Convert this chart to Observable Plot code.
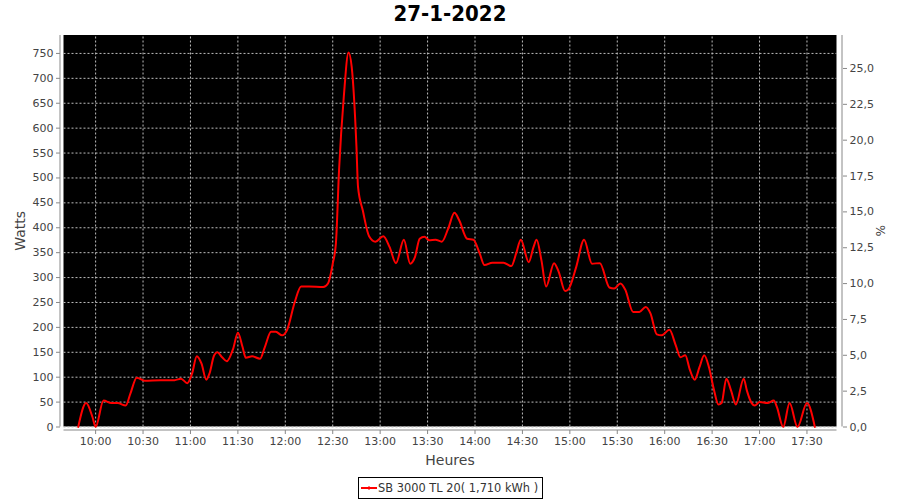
<!DOCTYPE html>
<html>
<head>
<meta charset="utf-8">
<script src="https://cdn.jsdelivr.net/npm/d3@7"></script>
<script src="https://cdn.jsdelivr.net/npm/@observablehq/plot@0.6"></script>
<style>
  body { margin: 0; background: #fff; }
  #wrap { position: relative; width: 900px; height: 500px; overflow: hidden; background: #fff; }
  #wrap > svg { position: absolute; left: 0; top: 0; }
  #title { position: absolute; left: 0; top: 0; width: 900px; text-align: center;
           font-family: "DejaVu Sans Condensed", "DejaVu Sans", sans-serif; font-stretch: condensed;
           font-weight: bold; font-size: 22px; line-height: 28px; color: #000; z-index: 2; }
  #legend { position: absolute; left: 358px; top: 477px; width: 183px; height: 20px;
            border: 1px solid #000; background: #fff; box-sizing: content-box; z-index: 2;
            font-family: "DejaVu Sans", sans-serif; font-size: 11.4px; color: #333; }
  #legend svg { position: absolute; left: 1px; top: 4px; }
  #legend span { position: absolute; left: 19px; top: 3px; white-space: nowrap; }
</style>
</head>
<body>
<div id="wrap">
  <div id="title"></div>
  <div id="legend"><svg width="18" height="12"><line x1="1" y1="6" x2="17" y2="6" stroke="#ff0000" stroke-width="2"/><line x1="9" y1="4" x2="9" y2="8" stroke="#ff0000" stroke-width="1"/></svg><span></span></div>
</div>
<script>
const chartTitle = "27-1-2022";
const seriesName = "SB 3000 TL 20( 1,710 kWh )";
const yLabel = "Watts";
const y2Label = "%";
const xLabel = "Heures";

const times = ["9:49","9:54","9:58","10:00","10:05","10:10","10:14","10:19","10:22","10:26",
  "10:31","10:41","10:50","10:54","10:58","11:01","11:04","11:07","11:10","11:12",
  "11:15","11:17","11:20","11:23","11:27","11:30","11:33","11:35","11:39","11:44",
  "11:47","11:51","11:54","11:58","12:01","12:06","12:10","12:15","12:24","12:27",
  "12:30","12:32","12:34","12:37","12:40","12:42","12:45","12:46","12:49","12:53",
  "12:57","13:02","13:06","13:10","13:15","13:19","13:22","13:25","13:28","13:31",
  "13:35","13:39","13:43","13:47","13:50","13:55","13:59","14:03","14:06","14:11",
  "14:18","14:23","14:26","14:29","14:34","14:37","14:39","14:42","14:45","14:50",
  "14:53","14:57","14:59","15:04","15:09","15:14","15:19","15:25","15:28","15:32",
  "15:35","15:40","15:44","15:48","15:51","15:55","15:58","16:03","16:07","16:10",
  "16:13","16:16","16:19","16:22","16:25","16:28","16:31","16:34","16:36","16:39",
  "16:42","16:45","16:50","16:52","16:55","16:57","17:00","17:05","17:09","17:11",
  "17:15","17:19","17:24","17:30","17:35"];
const watts = [0,48,20,0,53,48,48,43,67,99,
  93,94,94,97,88,107,142,127,95,107,
  144,150,140,132,157,189,160,139,142,137,
  160,191,191,184,194,251,282,282,281,288,
  328,368,516,663,752,723,563,482,435,383,
  372,383,361,329,376,328,341,378,382,375,
  376,372,398,430,415,378,376,348,325,330,
  330,323,348,376,331,361,376,335,282,329,
  311,273,276,321,376,328,329,280,278,288,
  276,231,231,241,228,186,184,195,164,140,
  144,114,95,120,144,120,77,45,48,97,
  73,45,97,73,48,43,50,48,53,40,
  0,48,0,48,0];

const wattTicks = [0,50,100,150,200,250,300,350,400,450,500,550,600,650,700,750];
const pctTicks = [0,2.5,5,7.5,10,12.5,15,17.5,20,22.5,25];
const xTickLabels = ["10:00","10:30","11:00","11:30","12:00","12:30","13:00","13:30",
  "14:00","14:30","15:00","15:30","16:00","16:30","17:00","17:30"];
const xStart = "9:40", xEnd = "17:49";
const wattMax = 786, pctMax = 27.3;

const parseT = s => { const [h, m] = s.split(":").map(Number); return new Date(Date.UTC(2022, 0, 27, h, m)); };
const data = times.map((t, i) => ({t: parseT(t), w: watts[i]}));
const xDomain = [parseT(xStart), parseT(xEnd)];
const xTicks = xTickLabels.map(parseT);
const fmtPct = w => (w / wattMax * pctMax).toFixed(1).replace(".", ",");

const W = 900, H = 500;
const mL = 60, mR = 58, mT = 35, mB = 70;
const pLeft = 63.5, pRight = 836.5, pTop = 35, pBottom = 426.5;

const chart = Plot.plot({
  width: W, height: H,
  marginLeft: mL, marginRight: mR, marginTop: mT, marginBottom: mB,
  style: {background: "transparent", fontFamily: "DejaVu Sans, sans-serif", fontSize: "11px", color: "#444", overflow: "visible"},
  x: {type: "utc", domain: xDomain, range: [pLeft, pRight]},
  y: {type: "linear", domain: [0, wattMax], range: [pBottom, pTop]},
  marks: [
    Plot.rect([0], {x1: () => xDomain[0], x2: () => xDomain[1], y1: () => 0, y2: () => wattMax, fill: "#000"}),
    Plot.ruleY(wattTicks, {y: d => d, x1: () => xDomain[0], x2: () => xDomain[1], stroke: "#bdbdbd", strokeWidth: 1, strokeDasharray: "2,2"}),
    Plot.ruleX(xTicks, {x: d => d, y1: () => 0, y2: () => wattMax, stroke: "#bdbdbd", strokeWidth: 1, strokeDasharray: "2,2"}),
    Plot.axisY({ticks: wattTicks, anchor: "left", tickSize: 4, tickPadding: 3, label: null, stroke: "#888", fill: "#444"}),
    Plot.axisY({ticks: pctTicks.map(p => p / pctMax * wattMax), anchor: "right", tickSize: 4, tickPadding: 3, tickFormat: fmtPct, label: null, stroke: "#888", fill: "#444"}),
    Plot.axisX({ticks: xTicks, anchor: "bottom", tickSize: 4, tickPadding: 3, tickFormat: d3.utcFormat("%H:%M"), label: null, stroke: "#888", fill: "#444"}),
    Plot.line(data, {x: "t", y: "w", stroke: "#ff0000", strokeWidth: 2, curve: "monotone-x"})
  ]
});

const svg = d3.select(chart);
svg.append("line").attr("x1", mL).attr("x2", mL).attr("y1", pTop).attr("y2", pBottom).attr("stroke", "#888");
svg.append("line").attr("x1", W - mR).attr("x2", W - mR).attr("y1", pTop).attr("y2", pBottom).attr("stroke", "#888");
svg.append("line").attr("x1", pLeft).attr("x2", pRight).attr("y1", H - mB).attr("y2", H - mB).attr("stroke", "#888");
svg.append("text").text(yLabel).attr("transform", `translate(25,${(pTop + pBottom) / 2}) rotate(-90)`)
  .attr("text-anchor", "middle").attr("font-size", 14).attr("fill", "#444");
svg.append("text").text(y2Label).attr("transform", `translate(876,${(pTop + pBottom) / 2}) rotate(90)`)
  .attr("text-anchor", "middle").attr("font-size", 12).attr("fill", "#444");
svg.append("text").text(xLabel).attr("x", (pLeft + pRight) / 2).attr("y", 465)
  .attr("text-anchor", "middle").attr("font-size", 14).attr("fill", "#444");

document.getElementById("wrap").insertBefore(chart, document.getElementById("wrap").firstChild);
document.getElementById("title").textContent = chartTitle;
document.querySelector("#legend span").textContent = seriesName;
</script>
</body>
</html>
